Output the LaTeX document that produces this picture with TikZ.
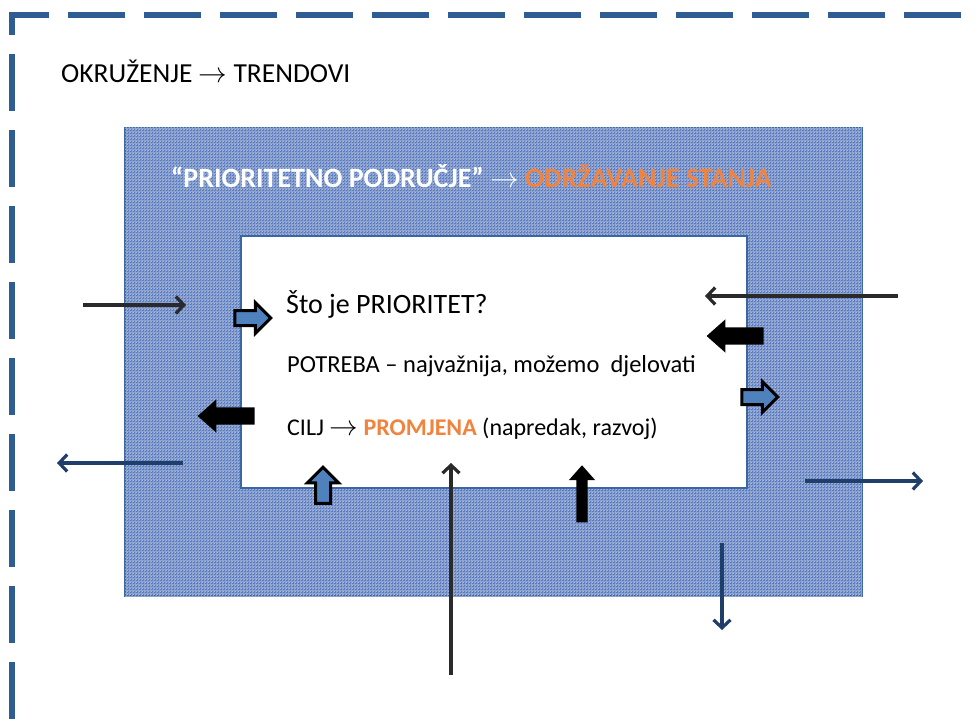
\documentclass[tikz,border=0pt]{standalone}
\usepackage{fontspec}
\setmainfont{Carlito}
\usetikzlibrary{arrows.meta,shapes.arrows,patterns}

\definecolor{frameblue}{HTML}{2F5D92}
\definecolor{fieldblue}{HTML}{5679C4}
\definecolor{fieldedge}{HTML}{3B66A4}
\definecolor{fieldlight}{HTML}{B3C7F0}
\definecolor{fielddark}{HTML}{34569E}
\definecolor{blockblue}{HTML}{4F81BD}
\definecolor{navyline}{HTML}{1F3F6A}
\definecolor{darkline}{HTML}{2A2A2A}
\definecolor{accent}{HTML}{F0843F}

\newcommand{\arr}{\scalebox{1.15}{$\rightarrow$}}

\begin{document}
\begin{tikzpicture}[x=1pt,y=-1pt,>={Straight Barb[length=8pt,width=17pt]}]

\tikzstyle{frame}=[draw=frameblue, line width=6.5pt, dash pattern=on 57pt off 19pt]
\tikzstyle{field}=[
  rectangle,
  draw=fieldedge,
  line width=2pt,
  fill=fieldblue,
  postaction={pattern=crosshatch dots, pattern color=fieldlight},
  postaction={pattern=grid, pattern color=fielddark!55},
  inner sep=0pt
]
\tikzstyle{core}=[rectangle, draw=fieldedge, line width=2.5pt, fill=white, inner sep=0pt]
\tikzstyle{caption}=[anchor=base west, inner sep=0pt]
\tikzstyle{bluetip}=[
  single arrow,
  draw=black,
  line width=3pt,
  fill=blockblue,
  minimum height=36pt,
  inner sep=0pt,
  inner ysep=6pt,
  single arrow head extend=8pt
]
\tikzstyle{blacktip}=[
  single arrow,
  fill=black,
  minimum height=57pt,
  inner sep=0pt,
  inner ysep=8.5pt,
  single arrow head extend=8pt,
  single arrow tip angle=83
]
\tikzstyle{thin}=[->, line width=3.2pt]

\useasboundingbox (0,0) rectangle (979,722);
\clip (0,0) rectangle (979,722);

% Dashed surroundings
\draw[frame] (12,35) -- (12,15) -- (1000,15);
\draw[frame, dash phase=57pt] (12,35) -- (12,760);

\node[caption, font=\fontsize{27.5}{33}\selectfont] (env) at (61,83)
{OKRUŽENJE \arr{} TRENDOVI};

% Priority field
\node[field, minimum width=737pt, minimum height=468pt] (field) at (493.5,362) {};
\node[core, minimum width=506pt, minimum height=252pt] (core) at (494,362) {};

\node[caption, font=\bfseries\fontsize{28}{33}\selectfont, text=white] (title) at (171,188)
{“PRIORITETNO PODRUČJE” \arr{} \textcolor{accent}{ODRŽAVANJE STANJA}};

\node[caption, font=\fontsize{28}{33}\selectfont] (question) at (286,313)
{Što je PRIORITET?};
\node[caption, font=\fontsize{24.5}{29}\selectfont] (need) at (287,372)
{POTREBA – najvažnija, možemo~ djelovati};
\node[caption, font=\fontsize{24}{29}\selectfont] (goal) at (287,435)
{CILJ \arr{} \textcolor{accent}{\bfseries PROMJENA} (napredak, razvoj)};

% Block arrows
\node[bluetip] (inL) at (249,318) {};
\node[bluetip] (outR) at (756,397) {};
\node[bluetip, rotate=90] (inB) at (323,489) {};
\node[blacktip, rotate=180] (pushL) at (231,416) {};
\node[blacktip, rotate=180] (pushR) at (740,336) {};
\node[blacktip, rotate=90, inner ysep=5.5pt, single arrow head extend=7.5pt] (pushB) at (582,497) {};

% Thin arrows
\coordinate (a1) at (83,305);  \coordinate (a2) at (186,305);
\coordinate (b1) at (898,296); \coordinate (b2) at (705,296);
\coordinate (c1) at (183,463); \coordinate (c2) at (57,463);
\coordinate (d1) at (805,481); \coordinate (d2) at (923,481);
\coordinate (e1) at (451,675); \coordinate (e2) at (451,463);
\coordinate (f1) at (722,543); \coordinate (f2) at (722,630);

\draw[thin, darkline] (a1) -- (a2);
\draw[thin, darkline] (b1) -- (b2);
\draw[thin, darkline] (e1) -- (e2);
\draw[thin, navyline] (c1) -- (c2);
\draw[thin, navyline] (d1) -- (d2);
\draw[thin, navyline] (f1) -- (f2);

\end{tikzpicture}
\end{document}
